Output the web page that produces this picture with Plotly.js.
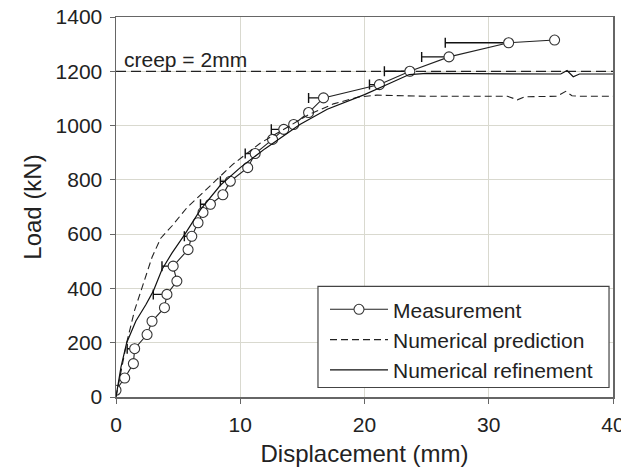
<!DOCTYPE html>
<html><head><meta charset="utf-8">
<script src="https://cdn.plot.ly/plotly-3.0.1.min.js"></script>
<style>body{margin:0;background:#fff}#chart{width:621px;height:475px}</style>
</head><body><div id="chart"></div>
<script>
// Measurement (displacement mm, load kN) and creep (mm, drawn to the left)
const measX = [0, 0.7, 1.4, 1.5, 2.5, 2.9, 3.9, 4.1, 4.9, 4.6, 5.8, 6.1, 6.6, 7.0, 7.6, 8.6, 9.2, 10.6, 11.2, 12.6, 13.5, 14.3, 15.5, 16.7, 21.2, 23.65, 26.8, 31.6, 35.3];
const measY = [25, 70, 123, 178, 230, 279, 329, 378, 427, 482, 543, 592, 642, 680, 710, 745, 795, 845, 897, 949, 986, 1004, 1048, 1102, 1151, 1200, 1253, 1305, 1315];
const measCreep = [0, 0, 0, 0.6, 0, 0, 0, 1.1, 0, 0.9, 0, 0.6, 0, 0, 0.8, 0, 0.8, 0, 0.8, 0, 1.0, 0, 0, 1.2, 0.8, 2.05, 2.2, 5.1, 0];

// Numerical prediction
const predX = [0, 0.4, 0.86, 1.5, 2.2, 2.9, 3.6, 4.5, 5.7, 7.7, 9.4, 11.6, 13.7, 15.5, 17.5, 19.5, 21, 23, 25, 28, 31.5, 32.3, 32.9, 35.5, 36.2, 36.7, 37.3, 40];
const predY = [0, 90, 200, 320, 422, 515, 585, 630, 697, 783, 857, 935, 992, 1040, 1080, 1105, 1112, 1110, 1108, 1108, 1108, 1095, 1106, 1108, 1126, 1110, 1108, 1108];

// Numerical refinement
const refX = [0, 0.4, 0.86, 1.6, 2.4, 3.0, 3.7, 4.5, 5.55, 6.8, 8.4, 10, 12, 14.8, 17, 20, 22, 23.6, 25, 30, 35.8, 36.3, 36.8, 37.3, 40];
const refY = [0, 110, 200, 280, 340, 390, 470, 530, 600, 690, 780, 845, 915, 1004, 1060, 1114, 1155, 1188, 1192, 1192, 1190, 1203, 1180, 1190, 1190];

// Creep criterion line
const creepX = [0, 40];
const creepY = [1200, 1200];

const xTicks = [0, 10, 20, 30, 40];
const yTicks = [0, 200, 400, 600, 800, 1000, 1200, 1400];

const font = "Liberation Sans, Arial, sans-serif";

const traces = [
  {x: creepX, y: creepY, mode: 'lines', showlegend: false, hoverinfo: 'skip',
   line: {color: '#222', width: 1.3, dash: '10px,5px'}},
  {x: measX, y: measY, mode: 'lines+markers', name: 'Measurement',
   line: {color: '#222', width: 1.1},
   marker: {symbol: 'circle', size: 10, color: '#fff', line: {color: '#333', width: 1.1}},
   error_x: {type: 'data', symmetric: false, array: measX.map(() => 0), arrayminus: measCreep,
             color: '#111', thickness: 1.4, width: 5}},
  {x: predX, y: predY, mode: 'lines', name: 'Numerical prediction',
   line: {color: '#222', width: 1.1, dash: '7px,4px'}},
  {x: refX, y: refY, mode: 'lines', name: 'Numerical refinement',
   line: {color: '#111', width: 1.2}}
];

const layout = {
  width: 621, height: 475,
  margin: {l: 116, r: 8, t: 17, b: 78},
  paper_bgcolor: '#fff', plot_bgcolor: '#fff',
  font: {family: font, size: 21, color: '#222'},
  xaxis: {
    range: [0, 40], tickvals: xTicks, ticktext: xTicks.map(String),
    showgrid: true, gridcolor: '#d9d9cf', gridwidth: 1,
    showline: true, linecolor: '#666', linewidth: 1.5, mirror: true,
    ticks: 'outside', ticklen: 5, tickcolor: '#666', zeroline: false,
    ticklabeloverflow: 'allow', ticklabelstandoff: 3,
    tickfont: {family: font, size: 21, color: '#222'},
    title: {text: 'Displacement (mm)', font: {family: font, size: 24, color: '#222'}, standoff: 10}
  },
  yaxis: {
    range: [0, 1400], tickvals: yTicks, ticktext: yTicks.map(String),
    showgrid: true, gridcolor: '#d9d9cf', gridwidth: 1,
    showline: true, linecolor: '#666', linewidth: 1.5, mirror: true,
    ticks: 'outside', ticklen: 5, tickcolor: '#666', zeroline: false,
    ticklabelstandoff: 3,
    tickfont: {family: font, size: 21, color: '#222'},
    title: {text: 'Load (kN)', font: {family: font, size: 24, color: '#222'}, standoff: 7}
  },
  legend: {
    x: 0.4205, y: 0.018, xanchor: 'left', yanchor: 'bottom',
    bgcolor: 'rgba(0,0,0,0)', borderwidth: 0,
    itemwidth: 58,
    font: {family: font, size: 21, color: '#222'},
    traceorder: 'normal', tracegroupgap: 0
  },
  shapes: [{
    type: 'rect', xref: 'paper', yref: 'paper', layer: 'above',
    x0: 0.4064, x1: 0.992, y0: 0.025, y1: 0.291,
    fillcolor: '#fff', line: {color: '#444', width: 1.2}
  }],
  annotations: [{
    x: 0.5, y: 1243, xref: 'x', yref: 'y', text: 'creep = 2mm', showarrow: false,
    xanchor: 'left', yanchor: 'middle', font: {family: font, size: 21, color: '#222'}
  }]
};

Plotly.newPlot('chart', traces, layout, {displayModeBar: false, staticPlot: true});
</script></body></html>
